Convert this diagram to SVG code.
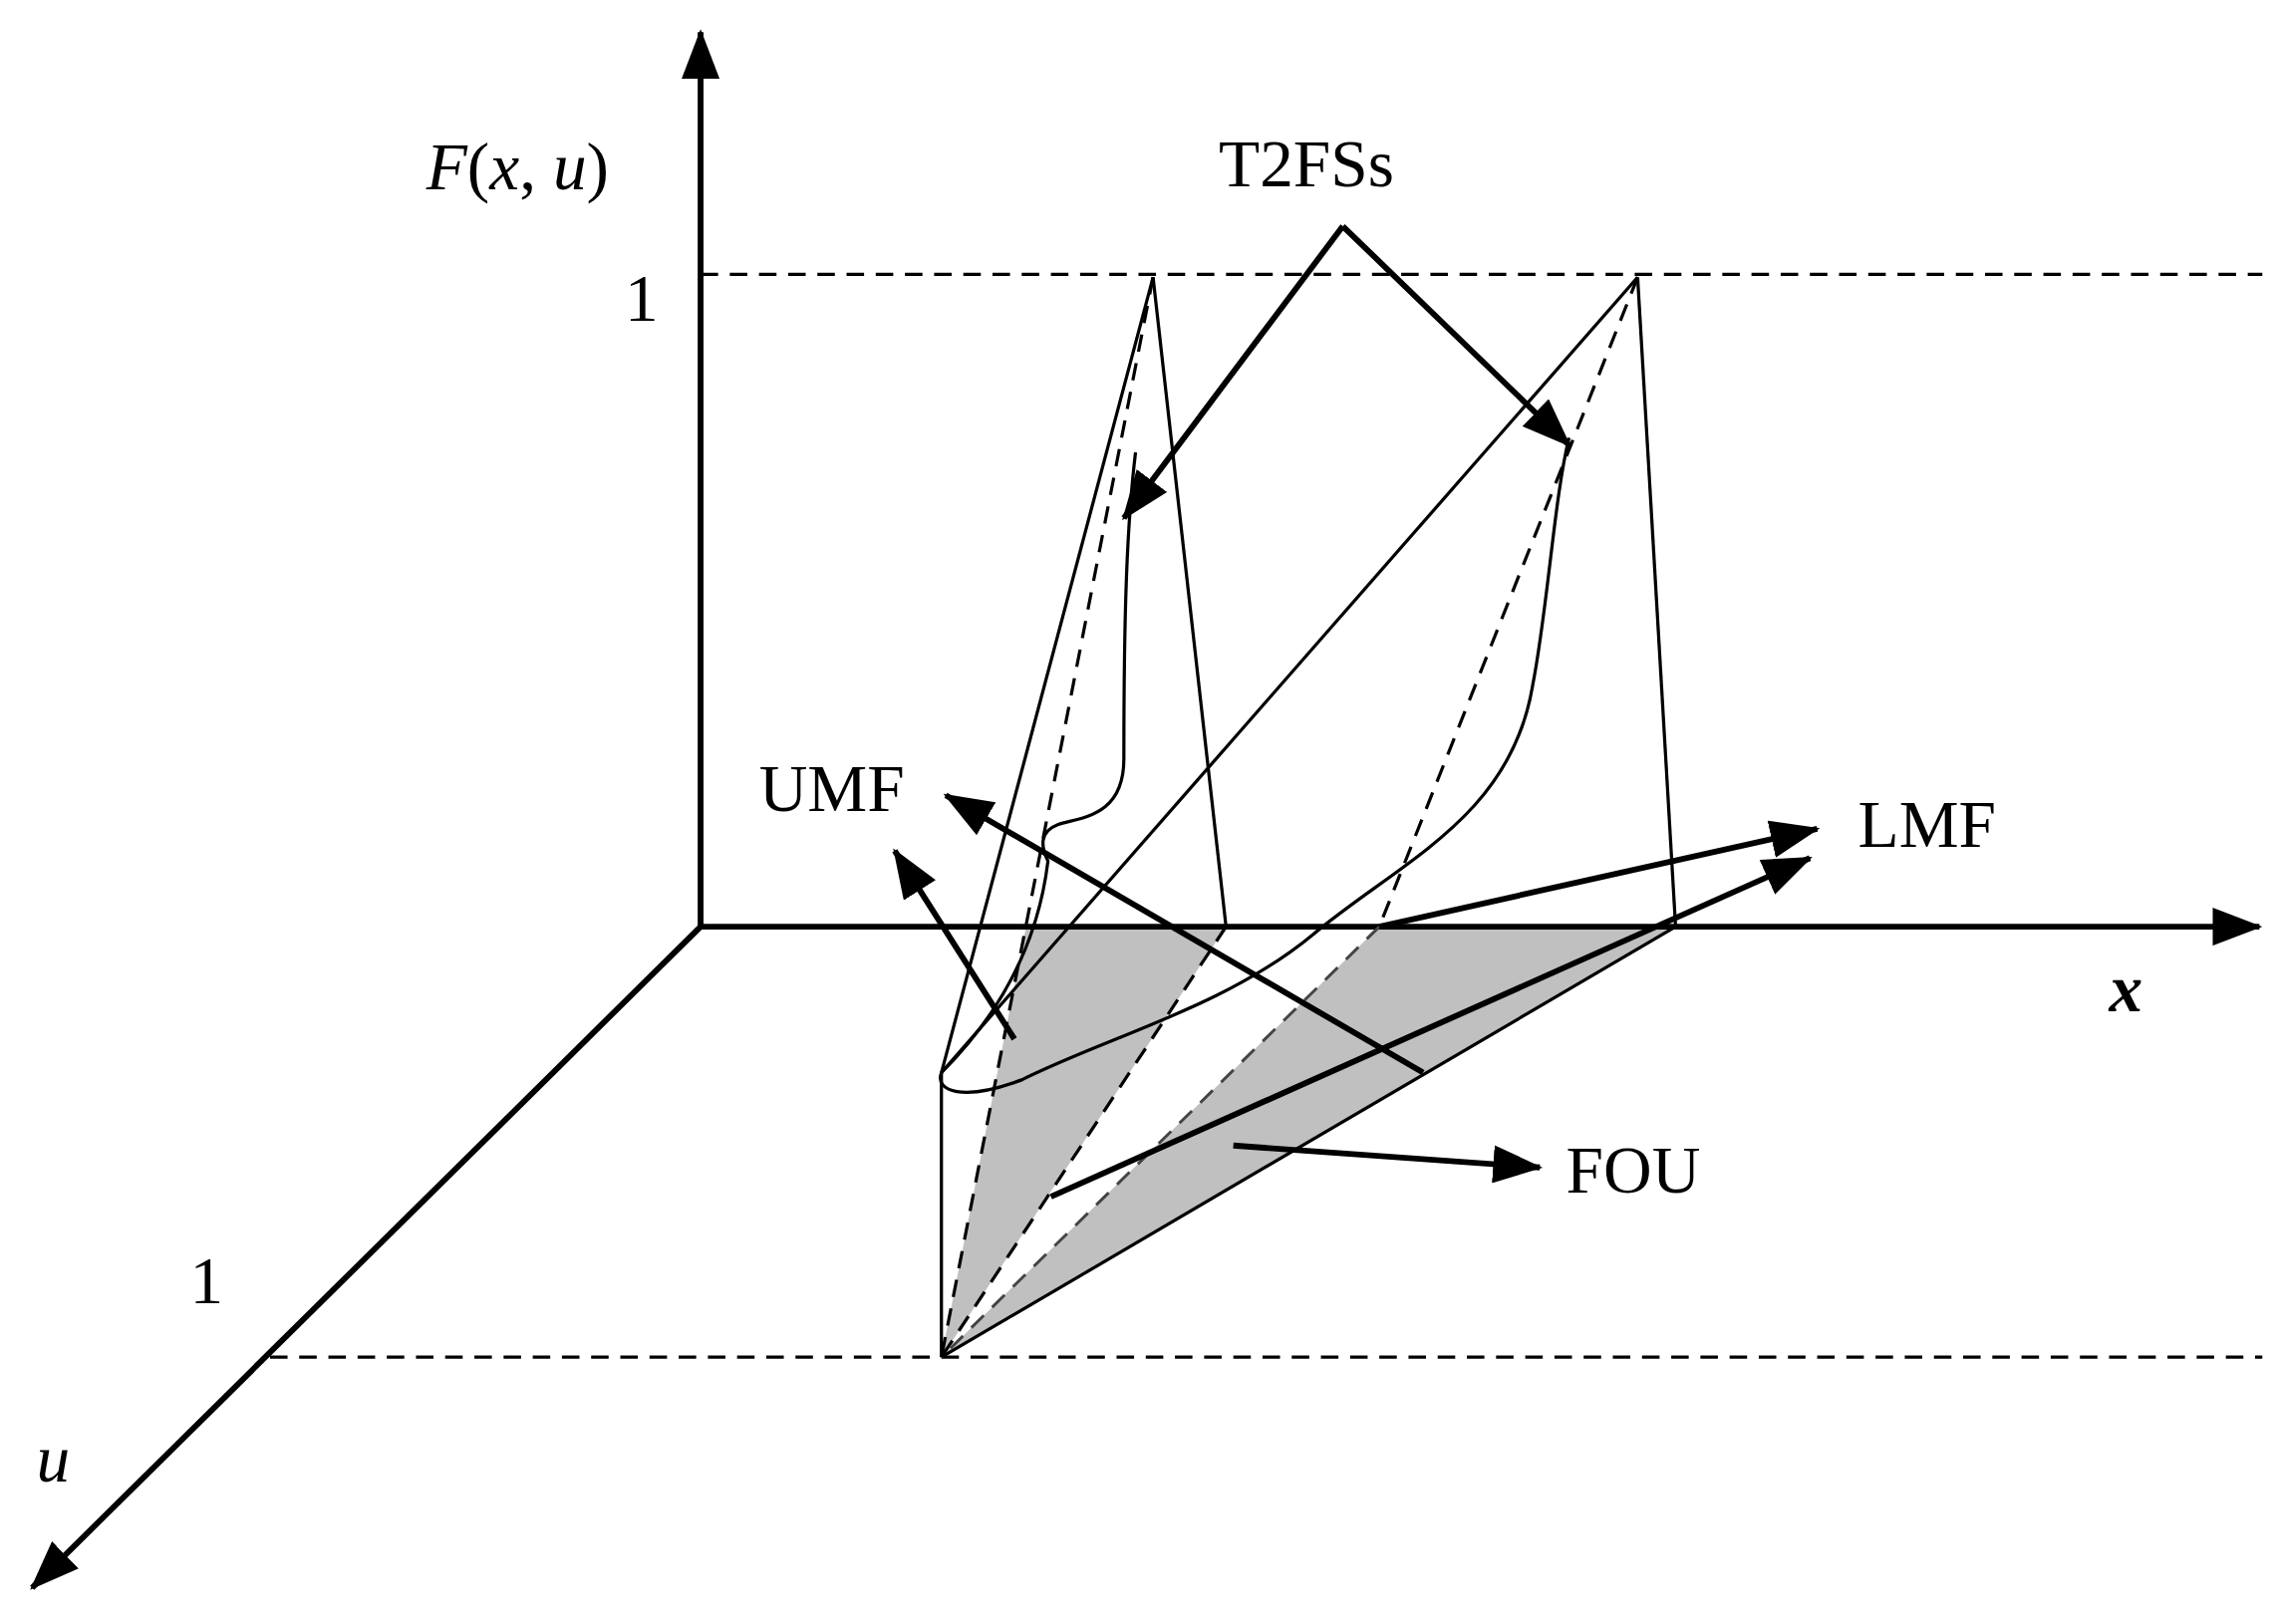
<svg xmlns="http://www.w3.org/2000/svg" width="2285" height="1630" viewBox="0 0 2285 1630">
<defs>
<marker id="ah" markerUnits="userSpaceOnUse" markerWidth="34" markerHeight="26" refX="32" refY="13" orient="auto"><path d="M0,0 L34,13 L0,26 Z" fill="#000"/></marker>
<style>
.ax{stroke:#000;stroke-width:4;fill:none}
.ln{stroke:#000;stroke-width:2.2;fill:none}
.ds{stroke:#000;stroke-width:2.2;fill:none;stroke-dasharray:12 8}
.dsl{stroke:#444;stroke-width:2;fill:none;stroke-dasharray:12 8}
.ar{stroke:#000;stroke-width:4;fill:none;marker-end:url(#ah)}
.t{font-family:"Liberation Serif",serif;font-size:46px;fill:#000}
</style>
</defs>
<rect width="2285" height="1630" fill="#fff"/>
<g transform="scale(1.4647)">
<g id="fou">
<polygon points="703,635 840,635 645,930" fill="#c0c0c0"/>
<polygon points="945,635 1148,635 645,930" fill="#c0c0c0"/>
</g>
<g id="axes">
<line class="ax" x1="480" y1="635" x2="480" y2="22" marker-end="url(#ah)"/>
<line class="ax" x1="480" y1="635" x2="1548" y2="635" marker-end="url(#ah)"/>
<line class="ax" x1="480" y1="635" x2="22" y2="1088" marker-end="url(#ah)"/>
<line class="ds" x1="480" y1="188" x2="1550" y2="188"/>
<line class="ds" x1="185" y1="930" x2="1550" y2="930"/>
</g>
<g id="shapes">
<line class="ln" x1="790" y1="190" x2="645" y2="735"/>
<line class="ln" x1="790" y1="190" x2="840" y2="635"/>
<line class="ds" x1="790" y1="190" x2="645" y2="930"/>
<line class="ds" x1="840" y1="635" x2="645" y2="930"/>
<line class="ln" x1="1122" y1="190" x2="1148" y2="635"/>
<line class="ln" x1="1148" y1="635" x2="645" y2="930"/>
<line class="ln" x1="1122" y1="190" x2="645" y2="735"/>
<line class="ds" x1="1122" y1="190" x2="945" y2="635"/>
<line class="dsl" x1="945" y1="635" x2="645" y2="930"/>
<line class="ln" x1="645" y1="735" x2="645" y2="930"/>
<path class="ln" d="M778,310 C772,360 770,420 770,520 C770,560 740,560 725,565 C712,570 713,580 718,590 C712,640 690,690 645,735"/>
<path class="ln" d="M1075,300 C1065,340 1060,420 1050,470 C1035,560 960,590 900,640 C840,690 760,710 700,740 C660,755 640,748 645,735"/>
</g>
<g id="connectors">
<line class="ar" x1="920" y1="155" x2="770" y2="355"/>
<line class="ar" x1="920" y1="155" x2="1075" y2="305"/>
<line class="ar" x1="695" y1="712" x2="613" y2="583"/>
<line class="ar" x1="975" y1="735" x2="648" y2="545"/>
<line class="ar" x1="945" y1="635" x2="1245" y2="568"/>
<line class="ar" x1="720" y1="820" x2="1240" y2="588"/>
<line class="ar" x1="845" y1="785" x2="1055" y2="800"/>
</g>
<g id="labels">
<text class="t" x="292" y="130"><tspan font-style="italic">F</tspan>(<tspan font-style="italic">x</tspan>, <tspan font-style="italic">u</tspan>)</text>
<text class="t" x="428" y="220">1</text>
<text class="t" x="130" y="893">1</text>
<text class="t" x="835" y="128">T2FSs</text>
<text class="t" x="520" y="556">UMF</text>
<text class="t" x="1273" y="580">LMF</text>
<text class="t" x="1073" y="817">FOU</text>
<text class="t" x="1445" y="693" font-style="italic" font-weight="bold">x</text>
<text class="t" x="25" y="1015" font-style="italic">u</text>
</g>
</g>
</svg>
